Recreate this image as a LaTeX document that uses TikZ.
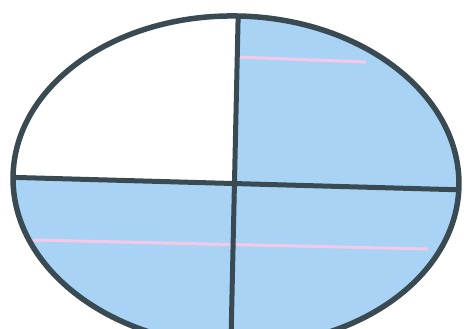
\documentclass[tikz,border=0pt]{standalone}
\definecolor{quadblue}{HTML}{A9D3F5}
\definecolor{rimgrey}{HTML}{3A4A52}
\definecolor{chordpink}{HTML}{F4C8E6}

\begin{document}
\begin{tikzpicture}[
  x=0.2mm,
  y=-0.2mm,
  line join=round,
  rim/.style={draw=rimgrey,line width=1.1mm},
  divider/.style={draw=rimgrey,line width=1mm},
  chord/.style={draw=chordpink,line width=0.6mm}
]
  % Keep the cropped frame of the original scan.
  \useasboundingbox (0,0) rectangle (466,328);

  % Ellipse centre and the ends of the two dividers.
  \coordinate (mid) at (236,181);
  \coordinate (hLeft) at (0,177);
  \coordinate (hRight) at (466,190);
  \coordinate (vTop) at (238.5,0);
  \coordinate (vBottom) at (231,340);
  \coordinate (cross) at (intersection of hLeft--hRight and vTop--vBottom);

  % Pink strokes across the shaded parts.
  \coordinate (topChordA) at (236,57);
  \coordinate (topChordB) at (366,62);
  \coordinate (lowChordA) at (33,240);
  \coordinate (lowChordB) at (428,249);

  \begin{scope}
    \clip[rotate around={-1.5:(mid)}] (mid) ellipse[x radius=223, y radius=165];
    % Three quarters shaded, the upper left one left blank.
    \fill[quadblue] (0,0) rectangle (466,340);
    \fill[white] (hLeft) -- (cross) -- (vTop) -- (0,0) -- cycle;
    \draw[chord] (topChordA) -- (topChordB);
    \draw[chord] (lowChordA) -- (lowChordB);
    \draw[divider] (hLeft) -- (hRight);
    \draw[divider] (vTop) -- (vBottom);
  \end{scope}

  % Outline on top.
  \draw[rim,rotate around={-1.5:(mid)}] (mid) ellipse[x radius=223, y radius=165];
\end{tikzpicture}
\end{document}
